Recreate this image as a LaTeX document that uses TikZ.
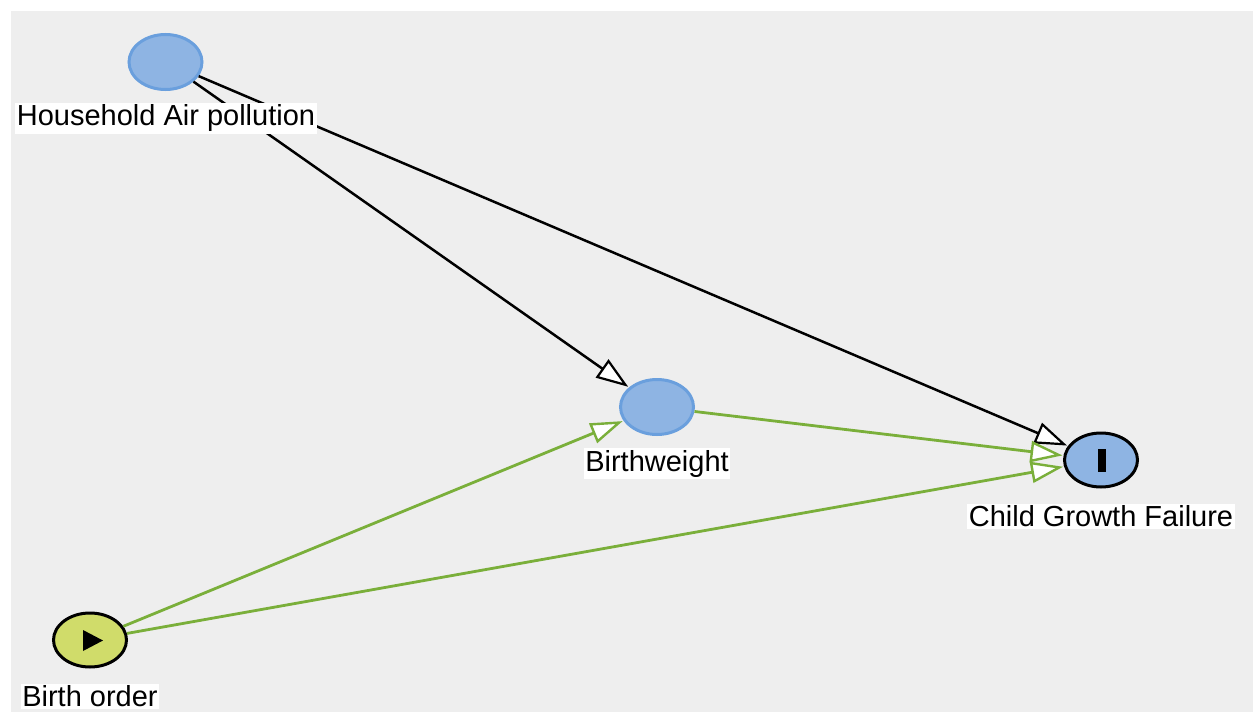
\documentclass[tikz,border=0pt]{standalone}
\usepackage{fontspec}
\setmainfont{Liberation Sans}
\usetikzlibrary{shapes.geometric,arrows.meta}
\definecolor{bgc}{HTML}{EEEEEE}
\definecolor{nodefill}{HTML}{8EB4E3}
\definecolor{nodeborder}{HTML}{6A9FDD}
\definecolor{expfill}{HTML}{D0DC6A}
\definecolor{greenedge}{HTML}{7AAF3A}
\tikzset{
  var/.style={ellipse, draw=nodeborder, fill=nodefill, line width=3pt, minimum width=73pt, minimum height=55pt, inner sep=0pt},
  outc/.style={ellipse, draw=black, fill=nodefill, line width=3pt, minimum width=73pt, minimum height=54pt, inner sep=0pt},
  expo/.style={ellipse, draw=black, fill=expfill, line width=3pt, minimum width=73pt, minimum height=54pt, inner sep=0pt},
  lbl/.style={fill=white, inner sep=1.5pt, font=\fontsize{29}{33}\selectfont},
  blackedge/.style={draw=black, line width=2.5pt, -{Triangle[open, fill=white, length=32pt, width=22pt, line width=2.2pt]}, shorten >=1pt},
  grnedge/.style={draw=greenedge, line width=2.8pt, -{Triangle[open, fill=white, length=32pt, width=21pt, line width=2.4pt]}, shorten >=1pt},
}
\begin{document}
\begin{tikzpicture}[x=1pt,y=-1pt]
\useasboundingbox (0,0) rectangle (1253,712);
\fill[white] (0,0) rectangle (1253,712);
\fill[bgc] (11,11) rectangle (1253,712);
% nodes
\node[var] (hap) at (165.5,62) {};
\node[var] (bw) at (657,407) {};
\node[outc] (cgf) at (1101,460) {};
\node[expo] (bo) at (90,640) {};
% edges
\draw[blackedge] (hap) -- (bw);
\draw[blackedge] (hap) -- (cgf);
\draw[grnedge] (bw) -- (cgf);
\draw[grnedge] (bo) -- (bw);
\draw[grnedge] (bo) -- (cgf);
% glyphs inside
\fill[black] (1098,449) rectangle (1106,472);
\fill[black] (83,630) -- (83,651) -- (103,640.5) -- cycle;
% labels
\node[lbl] (haplbl) at (166,118.5) {Household Air pollution};
\node[lbl] (bwlbl) at (657,463.5) {Birthweight};
\node[lbl] (cgflbl) at (1101,516.5) {Child Growth Failure};
\node[lbl] (bolbl) at (90,696.5) {Birth order};
\end{tikzpicture}
\end{document}
